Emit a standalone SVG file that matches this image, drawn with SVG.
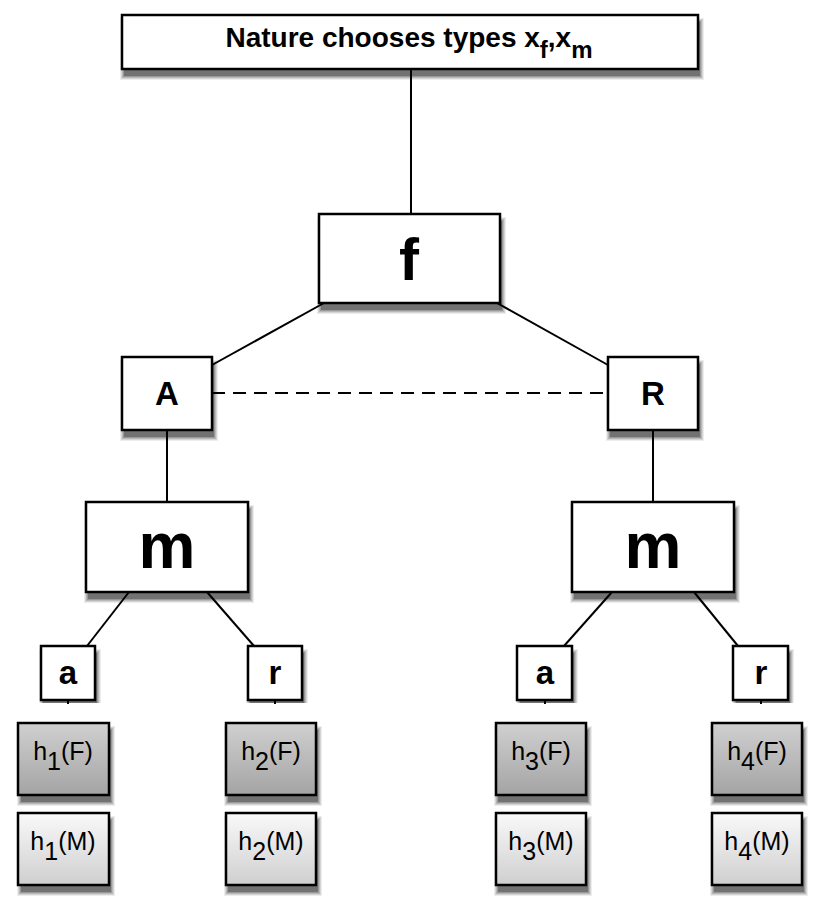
<svg xmlns="http://www.w3.org/2000/svg" xmlns:xlink="http://www.w3.org/1999/xlink" width="833" height="908" viewBox="0 0 833 908">
<defs>
<linearGradient id="gF" x1="0" y1="0" x2="0" y2="1">
<stop offset="0" stop-color="#d0d0d0"/><stop offset="1" stop-color="#a4a4a4"/>
</linearGradient>
<linearGradient id="gM" x1="0" y1="0" x2="0" y2="1">
<stop offset="0" stop-color="#f9f9f9"/><stop offset="1" stop-color="#cfcfcf"/>
</linearGradient>
<clipPath id="cut"><rect x="0" y="0" width="833" height="703"/></clipPath>
<g id="sN" fill="#000"><rect x="-2" y="3" width="584" height="62" opacity=".07"/><rect x="-1" y="4" width="582" height="60" opacity=".1"/><rect x="0" y="5" width="580" height="58" opacity=".13"/><rect x="1" y="6" width="578" height="56" opacity=".17"/><rect x="2" y="7" width="576" height="54" opacity=".25"/></g>
<g id="sF" fill="#000"><rect x="-2" y="3" width="189" height="97" opacity=".07"/><rect x="-1" y="4" width="187" height="95" opacity=".1"/><rect x="0" y="5" width="185" height="93" opacity=".13"/><rect x="1" y="6" width="183" height="91" opacity=".17"/><rect x="2" y="7" width="181" height="89" opacity=".25"/></g>
<g id="sAR" fill="#000"><rect x="-2" y="3" width="98" height="81" opacity=".07"/><rect x="-1" y="4" width="96" height="79" opacity=".1"/><rect x="0" y="5" width="94" height="77" opacity=".13"/><rect x="1" y="6" width="92" height="75" opacity=".17"/><rect x="2" y="7" width="90" height="73" opacity=".25"/></g>
<g id="sM" fill="#000"><rect x="-2" y="3" width="170" height="98" opacity=".07"/><rect x="-1" y="4" width="168" height="96" opacity=".1"/><rect x="0" y="5" width="166" height="94" opacity=".13"/><rect x="1" y="6" width="164" height="92" opacity=".17"/><rect x="2" y="7" width="162" height="90" opacity=".25"/></g>
<g id="sS" fill="#000"><rect x="-2" y="3" width="62" height="62" opacity=".07"/><rect x="-1" y="4" width="60" height="60" opacity=".1"/><rect x="0" y="5" width="58" height="58" opacity=".13"/><rect x="1" y="6" width="56" height="56" opacity=".17"/><rect x="2" y="7" width="54" height="54" opacity=".25"/></g>
<g id="sH" fill="#000"><rect x="-2" y="3" width="98" height="80" opacity=".07"/><rect x="-1" y="4" width="96" height="78" opacity=".1"/><rect x="0" y="5" width="94" height="76" opacity=".13"/><rect x="1" y="6" width="92" height="74" opacity=".17"/><rect x="2" y="7" width="90" height="72" opacity=".25"/></g>
</defs>
<style>
.box{fill:#fff;stroke:#000;stroke-width:2.5}
.hf{fill:url(#gF);stroke:#000;stroke-width:2.5}
.hm{fill:url(#gM);stroke:#000;stroke-width:2.5}
.ln{stroke:#000;stroke-width:2;fill:none}
.b{font-family:"Liberation Sans",Arial,sans-serif;font-weight:bold;text-anchor:middle;fill:#000}
.n{font-family:"Liberation Sans",Arial,sans-serif;font-size:25px;text-anchor:middle;fill:#000}
</style>
<rect width="833" height="908" fill="#fff"/>
<g id="connectors">
<line class="ln" x1="411" y1="69" x2="411" y2="214"/>
<line class="ln" x1="324" y1="303" x2="212" y2="365"/>
<line class="ln" x1="497" y1="303" x2="608" y2="365"/>
<line class="ln" x1="212" y1="393" x2="608" y2="393" stroke-dasharray="13,8"/>
<line class="ln" x1="167" y1="430" x2="167" y2="502"/>
<line class="ln" x1="653" y1="430" x2="653" y2="502"/>
<line class="ln" x1="129" y1="592" x2="87" y2="646"/>
<line class="ln" x1="207" y1="592" x2="254" y2="646"/>
<line class="ln" x1="612" y1="592" x2="564" y2="646"/>
<line class="ln" x1="694" y1="592" x2="738" y2="646"/>
<line class="ln" x1="68" y1="700" x2="68" y2="704"/>
<line class="ln" x1="275" y1="700" x2="275" y2="704"/>
<line class="ln" x1="545" y1="700" x2="545" y2="704"/>
<line class="ln" x1="761" y1="700" x2="761" y2="704"/>
</g>
<g id="nature">
<use href="#sN" xlink:href="#sN" x="122" y="15"/>
<rect class="box" x="122" y="15" width="576" height="54"/>
<text class="b" x="409" y="47" font-size="28">Nature chooses types x<tspan dy="11" font-size="24">f</tspan><tspan dy="-11">,x</tspan><tspan dy="11" font-size="24">m</tspan></text>
</g>
<g id="f">
<use href="#sF" xlink:href="#sF" x="319" y="214"/>
<rect class="box" x="319" y="214" width="181" height="89"/>
<text class="b" x="409" y="280" font-size="60">f</text>
</g>
<g id="A">
<use href="#sAR" xlink:href="#sAR" x="122" y="357"/>
<rect class="box" x="122" y="357" width="90" height="73"/>
<text class="b" x="167" y="405" font-size="33">A</text>
</g>
<g id="R">
<use href="#sAR" xlink:href="#sAR" x="608" y="357"/>
<rect class="box" x="608" y="357" width="90" height="73"/>
<text class="b" x="653" y="405" font-size="33">R</text>
</g>
<g id="m1">
<use href="#sM" xlink:href="#sM" x="86" y="502"/>
<rect class="box" x="86" y="502" width="162" height="90"/>
<text class="b" x="167" y="568" font-size="64">m</text>
</g>
<g id="m2">
<use href="#sM" xlink:href="#sM" x="572" y="502"/>
<rect class="box" x="572" y="502" width="162" height="90"/>
<text class="b" x="653" y="568" font-size="64">m</text>
</g>
<g id="a1" clip-path="url(#cut)">
<use href="#sS" xlink:href="#sS" x="41" y="646"/>
<rect class="box" x="41" y="646" width="54" height="54"/>
<text class="b" x="68" y="684" font-size="33">a</text>
</g>
<g id="r1" clip-path="url(#cut)">
<use href="#sS" xlink:href="#sS" x="248" y="646"/>
<rect class="box" x="248" y="646" width="54" height="54"/>
<text class="b" x="275" y="684" font-size="33">r</text>
</g>
<g id="a2" clip-path="url(#cut)">
<use href="#sS" xlink:href="#sS" x="518" y="646"/>
<rect class="box" x="517" y="646" width="55" height="54"/>
<text class="b" x="545" y="684" font-size="33">a</text>
</g>
<g id="r2" clip-path="url(#cut)">
<use href="#sS" xlink:href="#sS" x="734" y="646"/>
<rect class="box" x="733" y="646" width="55" height="54"/>
<text class="b" x="761" y="684" font-size="33">r</text>
</g>
<g id="h1F">
<use href="#sH" xlink:href="#sH" x="19" y="723"/>
<rect class="hf" x="18" y="723" width="91" height="72"/>
<text class="n" x="63" y="760">h<tspan dy="10">1</tspan><tspan dy="-10">(F)</tspan></text>
</g>
<g id="h1M">
<use href="#sH" xlink:href="#sH" x="19" y="813"/>
<rect class="hm" x="18" y="813" width="91" height="72"/>
<text class="n" x="63" y="850">h<tspan dy="10">1</tspan><tspan dy="-10">(M)</tspan></text>
</g>
<g id="h2F">
<use href="#sH" xlink:href="#sH" x="226" y="723"/>
<rect class="hf" x="226" y="723" width="90" height="72"/>
<text class="n" x="271" y="760">h<tspan dy="10">2</tspan><tspan dy="-10">(F)</tspan></text>
</g>
<g id="h2M">
<use href="#sH" xlink:href="#sH" x="226" y="813"/>
<rect class="hm" x="226" y="813" width="90" height="72"/>
<text class="n" x="271" y="850">h<tspan dy="10">2</tspan><tspan dy="-10">(M)</tspan></text>
</g>
<g id="h3F">
<use href="#sH" xlink:href="#sH" x="496" y="723"/>
<rect class="hf" x="496" y="723" width="90" height="72"/>
<text class="n" x="541" y="760">h<tspan dy="10">3</tspan><tspan dy="-10">(F)</tspan></text>
</g>
<g id="h3M">
<use href="#sH" xlink:href="#sH" x="496" y="813"/>
<rect class="hm" x="496" y="813" width="90" height="72"/>
<text class="n" x="541" y="850">h<tspan dy="10">3</tspan><tspan dy="-10">(M)</tspan></text>
</g>
<g id="h4F">
<use href="#sH" xlink:href="#sH" x="712" y="723"/>
<rect class="hf" x="712" y="723" width="90" height="72"/>
<text class="n" x="757" y="760">h<tspan dy="10">4</tspan><tspan dy="-10">(F)</tspan></text>
</g>
<g id="h4M">
<use href="#sH" xlink:href="#sH" x="712" y="813"/>
<rect class="hm" x="712" y="813" width="90" height="72"/>
<text class="n" x="757" y="850">h<tspan dy="10">4</tspan><tspan dy="-10">(M)</tspan></text>
</g>
</svg>
